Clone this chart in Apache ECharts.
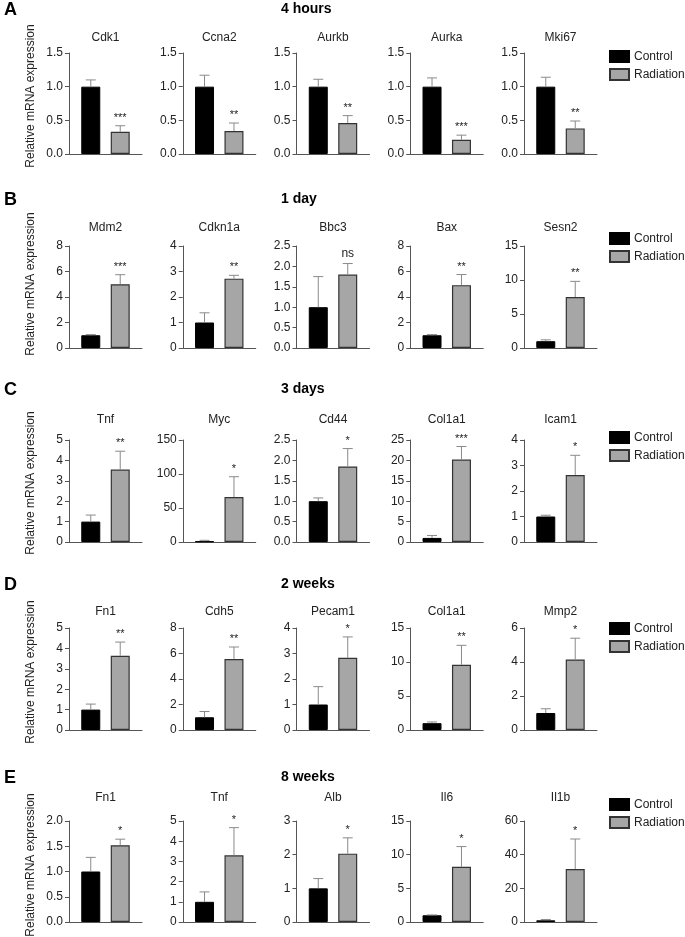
<!DOCTYPE html>
<html>
<head>
<meta charset="utf-8">
<script src="https://cdn.jsdelivr.net/npm/echarts@6/dist/echarts.min.js"></script>
<style>
html,body{margin:0;padding:0;background:#fff;}
#chart{width:685px;height:937px;}
</style>
</head>
<body>
<div id="chart"></div>
<script>
// ---------- DATA ----------
const rowLetters = ['A', 'B', 'C', 'D', 'E'];
const rowTitles = ['4 hours', '1 day', '3 days', '2 weeks', '8 weeks'];
const seriesNames = ['Control', 'Radiation'];
const yAxisName = 'Relative mRNA expression';

const genes = [
  ['Cdk1', 'Ccna2', 'Aurkb', 'Aurka', 'Mki67'],
  ['Mdm2', 'Cdkn1a', 'Bbc3', 'Bax', 'Sesn2'],
  ['Tnf', 'Myc', 'Cd44', 'Col1a1', 'Icam1'],
  ['Fn1', 'Cdh5', 'Pecam1', 'Col1a1', 'Mmp2'],
  ['Fn1', 'Tnf', 'Alb', 'Il6', 'Il1b']
];
const controlMean = [
  [1, 1, 1, 1, 1],
  [1, 1, 1, 1, 1],
  [1, 1, 1, 1, 1],
  [1, 1, 1, 1, 1],
  [1, 1, 1, 1, 1]
];
const controlErr = [
  [0.10, 0.17, 0.11, 0.13, 0.14],
  [0.05, 0.38, 0.75, 0.05, 0.20],
  [0.32, 1.5, 0.08, 0.6, 0.05],
  [0.27, 0.45, 0.70, 0.18, 0.25],
  [0.28, 0.49, 0.29, 0.05, 0.5]
];
const radiationMean = [
  [0.33, 0.34, 0.46, 0.21, 0.38],
  [5.0, 2.72, 1.80, 4.93, 7.5],
  [3.55, 66, 1.85, 20.2, 2.63],
  [3.64, 5.56, 2.83, 9.6, 4.15],
  [1.52, 3.3, 2.03, 8.2, 31.5]
];
const radiationErr = [
  [0.09, 0.12, 0.11, 0.07, 0.11],
  [0.75, 0.13, 0.27, 0.83, 2.3],
  [0.90, 30, 0.44, 3.2, 0.77],
  [0.67, 0.95, 0.82, 2.85, 1.25],
  [0.12, 1.37, 0.47, 3.0, 17.8]
];
const significance = [
  ['***', '**', '**', '***', '**'],
  ['***', '**', 'ns', '**', '**'],
  ['**', '*', '*', '***', '*'],
  ['**', '**', '*', '**', '*'],
  ['*', '*', '*', '*', '*']
];
const yMax = [
  [1.5, 1.5, 1.5, 1.5, 1.5],
  [8, 4, 2.5, 8, 15],
  [5, 150, 2.5, 25, 4],
  [5, 8, 4, 15, 6],
  [2.0, 5, 3, 15, 60]
];
const yInterval = [
  [0.5, 0.5, 0.5, 0.5, 0.5],
  [2, 1, 0.5, 2, 5],
  [1, 50, 0.5, 5, 1],
  [1, 2, 1, 5, 2],
  [0.5, 1, 1, 5, 20]
];

// ---------- LAYOUT / STYLE ----------
const FONT = "'Liberation Sans', Arial, Helvetica, sans-serif";
const rowLayout = [
  {header: 10, title: 38, top: 53, bottom: 154, legend: 50, yname: 96},
  {header: 200, title: 228, top: 246, bottom: 348, legend: 232, yname: 284},
  {header: 390, title: 420, top: 440, bottom: 542, legend: 431, yname: 483},
  {header: 585, title: 612, top: 628, bottom: 730, legend: 622, yname: 672},
  {header: 778, title: 798, top: 821, bottom: 922, legend: 798, yname: 865}
];
const panelLeft0 = 69, panelStep = 113.75, panelWidth = 73;
const BAR_W = 19, BAR_GAP_PCT = 55;
const halfOffset = (BAR_W + BAR_W * BAR_GAP_PCT / 100) / 2;
const axisColor = '#555';
const errColor = '#8a8a8a';

const grids = [], xAxes = [], yAxes = [], series = [], graphics = [], legends = [];

function decimalsFor(iv) { return iv < 1 ? 1 : 0; }

for (let r = 0; r < 5; r++) {
  const L = rowLayout[r];
  graphics.push({type: 'text', left: 4, top: L.header - 9,
    style: {text: rowLetters[r], font: 'bold 18px ' + FONT, fill: '#000'}});
  graphics.push({type: 'text', left: 281, top: L.header - 8,
    style: {text: rowTitles[r], font: 'bold 14px ' + FONT, fill: '#000'}});
  graphics.push({type: 'text', x: 31, y: L.yname, rotation: Math.PI / 2,
    style: {text: yAxisName, font: '12px ' + FONT, fill: '#222',
      textAlign: 'center', textVerticalAlign: 'middle', align: 'center', verticalAlign: 'middle'}});
  legends.push({
    data: seriesNames, orient: 'vertical', left: 609, top: L.legend, padding: 0,
    itemWidth: 19, itemHeight: 11, itemGap: 5, icon: 'rect',
    textStyle: {fontSize: 12, color: '#222', fontFamily: FONT},
    selectedMode: false
  });
  for (let c = 0; c < 5; c++) {
    const k = r * 5 + c;
    const left = panelLeft0 + panelStep * c;
    grids.push({left: left, top: L.top, width: panelWidth, height: L.bottom - L.top, containLabel: false});
    graphics.push({type: 'text', x: left + panelWidth / 2, y: L.title,
      style: {text: genes[r][c], font: '12px ' + FONT, fill: '#222',
        textAlign: 'center', textVerticalAlign: 'middle', align: 'center', verticalAlign: 'middle'}});
    xAxes.push({type: 'category', gridIndex: k, data: [genes[r][c]],
      axisLine: {lineStyle: {color: axisColor, width: 1}},
      axisTick: {show: false}, axisLabel: {show: false}});
    const dec = decimalsFor(yInterval[r][c]);
    yAxes.push({type: 'value', gridIndex: k, min: 0, max: yMax[r][c], interval: yInterval[r][c],
      axisLine: {show: true, lineStyle: {color: axisColor, width: 1}},
      axisTick: {show: true, length: 4, lineStyle: {color: axisColor}},
      splitLine: {show: false},
      axisLabel: {margin: 6, color: '#222', fontSize: 12, fontFamily: FONT,
        formatter: v => v.toFixed(dec)}});
    series.push({type: 'bar', name: seriesNames[0], xAxisIndex: k, yAxisIndex: k,
      data: [controlMean[r][c]], barWidth: BAR_W, barGap: BAR_GAP_PCT + '%',
      itemStyle: {color: '#000', borderColor: '#000', borderWidth: 1},
      silent: true, animation: false});
    series.push({type: 'bar', name: seriesNames[1], xAxisIndex: k, yAxisIndex: k,
      data: [radiationMean[r][c]], barWidth: BAR_W, barGap: BAR_GAP_PCT + '%',
      itemStyle: {color: '#a6a6a6', borderColor: '#333', borderWidth: 1.2},
      silent: true, animation: false});
    const errSets = [
      {mean: controlMean[r][c], err: controlErr[r][c], off: -halfOffset, label: ''},
      {mean: radiationMean[r][c], err: radiationErr[r][c], off: halfOffset, label: significance[r][c]}
    ];
    errSets.forEach(es => {
      series.push({type: 'custom', xAxisIndex: k, yAxisIndex: k, silent: true, animation: false, z: 3,
        data: [[0, es.mean, es.mean + es.err]],
        renderItem: (params, api) => {
          const base = api.coord([0, api.value(1)]);
          const top = api.coord([0, api.value(2)]);
          const x = base[0] + es.off;
          const children = [
            {type: 'line', shape: {x1: x, y1: base[1], x2: x, y2: top[1]}, style: {stroke: errColor, lineWidth: 1}},
            {type: 'line', shape: {x1: x - 5, y1: top[1], x2: x + 5, y2: top[1]}, style: {stroke: errColor, lineWidth: 1}}
          ];
          if (es.label) {
            const isStar = es.label.indexOf('*') >= 0;
            children.push({type: 'text', x: x, y: top[1] - (isStar ? 8 : 10),
              style: {text: es.label, fill: '#222', font: (isStar ? '11px ' : '12px ') + FONT,
                textAlign: 'center', textVerticalAlign: 'middle', align: 'center', verticalAlign: 'middle'}});
          }
          return {type: 'group', children: children};
        }});
    });
  }
}

const chart = echarts.init(document.getElementById('chart'), null, {renderer: 'canvas'});
chart.setOption({
  backgroundColor: '#fff',
  animation: false,
  legend: legends,
  grid: grids,
  xAxis: xAxes,
  yAxis: yAxes,
  series: series,
  graphic: {elements: graphics}
});
</script>
</body>
</html>
